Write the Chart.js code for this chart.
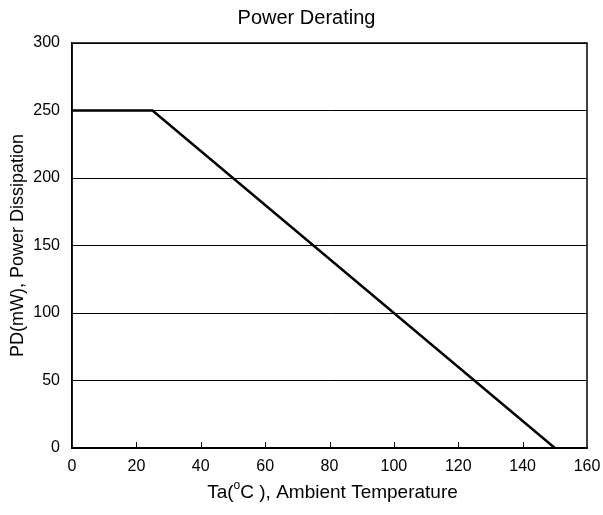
<!DOCTYPE html>
<html>
<head>
<meta charset="utf-8">
<script src="https://cdn.jsdelivr.net/npm/chart.js@4/dist/chart.umd.min.js"></script>
<style>
  html, body { margin: 0; padding: 0; background: #fff; }
  #wrap { width: 603px; height: 515px; }
</style>
</head>
<body>
<div id="wrap"><canvas id="chart"></canvas></div>
<script>
// Derating curve
const temps = [0, 25, 150];
const power = [250, 250, 0];
const xTicks = [0, 20, 40, 60, 80, 100, 120, 140, 160];
const yTicks = [0, 50, 100, 150, 200, 250, 300];

const FONT = "'Liberation Sans', Arial, sans-serif";

// box round the plot, inward x ticks and the x title with its superscript
const framePlugin = {
  id: 'frame',
  afterDraw(chart) {
    const { ctx, chartArea: a, scales } = chart;
    ctx.save();
    ctx.strokeStyle = '#000';
    ctx.lineWidth = 1.5;
    ctx.strokeRect(a.left, a.top, a.right - a.left, a.bottom - a.top);

    ctx.lineWidth = 1;
    xTicks.slice(1, -1).forEach(v => {
      const px = Math.round(scales.x.getPixelForValue(v)) + 0.5;
      ctx.beginPath();
      ctx.moveTo(px, a.bottom);
      ctx.lineTo(px, a.bottom - 6);
      ctx.stroke();
    });

    // "Ta(°C ), Ambient Temperature" with a raised small o
    const big = `19px ${FONT}`;
    const small = `12px ${FONT}`;
    const p1 = 'Ta(', p2 = 'o', p3 = 'C ), Ambient Temperature';
    ctx.font = big;
    const w1 = ctx.measureText(p1).width;
    const w3 = ctx.measureText(p3).width;
    ctx.font = small;
    const w2 = ctx.measureText(p2).width;
    const total = w1 + w2 + w3;
    let x = (a.left + a.right) / 2 - total / 2 + 3;
    const y = 493;
    ctx.fillStyle = '#000';
    ctx.textBaseline = 'middle';
    ctx.textAlign = 'left';
    ctx.font = big;
    ctx.fillText(p1, x, y);
    x += w1;
    ctx.font = small;
    ctx.fillText(p2, x, y - 7);
    x += w2;
    ctx.font = big;
    ctx.fillText(p3, x, y);
    ctx.restore();
  }
};

const chart = new Chart(document.getElementById('chart'), {
  type: 'line',
  data: {
    datasets: [{
      data: temps.map((t, i) => ({ x: t, y: power[i] })),
      borderColor: '#000',
      borderWidth: 2.5,
      pointRadius: 0,
      tension: 0,
      fill: false
    }]
  },
  options: {
    responsive: true,
    maintainAspectRatio: false,
    animation: false,
    // left padding pushes the centred title to the right like the original
    layout: { padding: { left: 26, right: 16, top: 0, bottom: 0 } },
    plugins: {
      legend: { display: false },
      tooltip: { enabled: false },
      title: {
        display: true,
        text: 'Power Derating',
        color: '#000',
        font: { family: FONT, size: 20, weight: 'normal', lineHeight: 1.2 },
        padding: { top: 6, bottom: 13 }
      }
    },
    scales: {
      x: {
        type: 'linear',
        min: 0,
        max: 160,
        afterBuildTicks: s => { s.ticks = xTicks.map(v => ({ value: v })); },
        afterFit: s => { s.height = 67; s.paddingLeft = 0; s.paddingRight = 0; },
        grid: { display: false, drawTicks: false },
        border: { display: true, color: '#000', width: 1.5 },
        ticks: {
          color: '#000',
          padding: 9,
          maxRotation: 0,
          font: { family: FONT, size: 16 }
        },
        title: { display: false }
      },
      y: {
        min: 0,
        max: 300,
        afterBuildTicks: s => { s.ticks = yTicks.map(v => ({ value: v })); },
        afterFit: s => { s.width = 46; },
        grid: { color: '#000', lineWidth: 1, drawTicks: false },
        border: { display: true, color: '#000', width: 1.5 },
        ticks: {
          color: '#000',
          padding: 12,
          font: { family: FONT, size: 16 }
        },
        title: {
          display: true,
          text: 'PD(mW), Power Dissipation',
          color: '#000',
          font: { family: FONT, size: 18, lineHeight: 1.2 },
          padding: { top: -19, bottom: 0 }
        }
      }
    }
  },
  plugins: [framePlugin]
});
</script>
</body>
</html>
